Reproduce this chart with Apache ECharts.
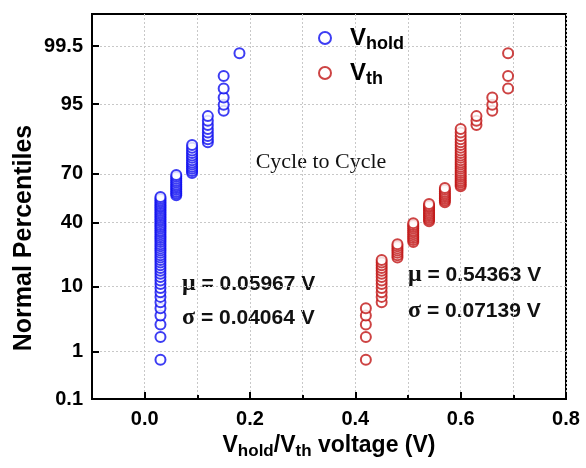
<!DOCTYPE html>
<html>
<head>
<meta charset="utf-8">
<script src="https://cdn.jsdelivr.net/npm/echarts@6/dist/echarts.min.js"></script>
<style>
  html, body { margin: 0; padding: 0; background: #fff; }
  #chart { width: 586px; height: 468px; }
</style>
</head>
<body>
<div id="chart"></div>
<script>
// Measured voltage levels (V) and how many cycles gave each level
const vholdLevels = [0.03, 0.06, 0.09, 0.12, 0.15, 0.18];
const vholdCounts = [51, 12, 13, 8, 5, 1];
const vthLevels = [0.42, 0.45, 0.48, 0.51, 0.54, 0.57, 0.60, 0.63, 0.66, 0.69];
const vthCounts = [5, 13, 7, 11, 11, 9, 25, 3, 3, 3];

// Axis ticks
const percentileTicks = [0.1, 1, 10, 40, 70, 95, 99.5];
const percentileLabels = ['0.1', '1', '10', '40', '70', '95', '99.5'];
const voltageTicks = [0.0, 0.2, 0.4, 0.6, 0.8];

// Fitted statistics
const vholdStats = { mu: '0.05967', sigma: '0.04064' };
const vthStats = { mu: '0.54363', sigma: '0.07139' };

// Inverse of the standard normal CDF (Acklam's rational approximation)
function probit(p) {
  const a = [-3.969683028665376e+01, 2.209460984245205e+02, -2.759285104469687e+02,
             1.383577518672690e+02, -3.066479806614716e+01, 2.506628277459239e+00];
  const b = [-5.447609879822406e+01, 1.615858368580409e+02, -1.556989798598866e+02,
             6.680131188771972e+01, -1.328068155288572e+01];
  const c = [-7.784894002430293e-03, -3.223964580411365e-01, -2.400758277161838e+00,
             -2.549671010422186e+00, 4.374664141464968e+00, 2.938163982698783e+00];
  const d = [7.784695709041462e-03, 3.224671290700398e-01, 2.445134137142996e+00,
             3.754408661907416e+00];
  const pl = 0.02425, ph = 1 - pl;
  let q, r;
  if (p < pl) {
    q = Math.sqrt(-2 * Math.log(p));
    return (((((c[0]*q+c[1])*q+c[2])*q+c[3])*q+c[4])*q+c[5]) /
           ((((d[0]*q+d[1])*q+d[2])*q+d[3])*q+1);
  }
  if (p <= ph) {
    q = p - 0.5; r = q * q;
    return (((((a[0]*r+a[1])*r+a[2])*r+a[3])*r+a[4])*r+a[5])*q /
           (((((b[0]*r+b[1])*r+b[2])*r+b[3])*r+b[4])*r+1);
  }
  q = Math.sqrt(-2 * Math.log(1 - p));
  return -(((((c[0]*q+c[1])*q+c[2])*q+c[3])*q+c[4])*q+c[5]) /
          ((((d[0]*q+d[1])*q+d[2])*q+d[3])*q+1);
}

// Normal probability plot points: ranked samples, Blom plotting positions
function probabilityPoints(levels, counts) {
  const n = counts.reduce((s, v) => s + v, 0);
  const pts = [];
  let rank = 0;
  levels.forEach((lv, k) => {
    for (let j = 0; j < counts[k]; j++) {
      rank += 1;
      pts.push([lv, probit((rank - 0.375) / (n + 0.25))]);
    }
  });
  return pts;
}

const zMin = probit(0.001);
const zMax = probit(0.999);
const yTickZ = percentileTicks.map(p => probit(p / 100));

function percentLabel(v) {
  let best = 0;
  yTickZ.forEach((z, i) => { if (Math.abs(z - v) < Math.abs(yTickZ[best] - v)) best = i; });
  return percentileLabels[best];
}

const SANS = 'Liberation Sans, Arial, sans-serif';
const SERIF = 'Liberation Serif, Times New Roman, serif';
const BLUE = '#0c0cf0';
const RED = '#c01414';
const plotRect = { left: 92, right: 20, top: 14, bottom: 69 };

const chart = echarts.init(document.getElementById('chart'), null, { renderer: 'canvas' });

const statText = (stats, sym, key) => `{g|${sym}}{t| = ${stats[key]} V}`;
const statRich = {
  g: { fontFamily: SERIF, fontSize: 24, fontWeight: 'bold', fill: '#111' },
  t: { fontFamily: SANS, fontSize: 21, fontWeight: 'bold', fill: '#111' }
};

chart.setOption({
  animation: false,
  backgroundColor: '#fff',
  grid: [
    Object.assign({ show: true, borderColor: '#000', borderWidth: 2, backgroundColor: 'transparent' }, plotRect),
    // same rectangle, carries the long major ticks of the voltage axis
    Object.assign({ show: false }, plotRect)
  ],
  legend: {
    orient: 'vertical',
    left: 313, top: 21,
    itemGap: 8,
    itemWidth: 40, itemHeight: 12,
    data: ['Vhold', 'Vth'],
    formatter: name => name === 'Vhold' ? '{v|V}{s|hold}' : '{v|V}{s|th}',
    textStyle: {
      color: '#000',
      rich: {
        v: { fontFamily: SANS, fontSize: 24, fontWeight: 'bold', color: '#000', lineHeight: 26 },
        s: { fontFamily: SANS, fontSize: 18, fontWeight: 'bold', color: '#000', padding: [12, 0, 0, 0] }
      }
    }
  },
  xAxis: [
    {
      gridIndex: 0,
      type: 'value', min: -0.1, max: 0.8, interval: 0.1,
      name: '{v|V}{s|hold}{v|/V}{s|th}{v| voltage (V)}',
      nameLocation: 'middle', nameGap: 33,
      nameTextStyle: {
        rich: {
          v: { fontFamily: SANS, fontSize: 23, fontWeight: 'bold', color: '#000', lineHeight: 26 },
          s: { fontFamily: SANS, fontSize: 17, fontWeight: 'bold', color: '#000', padding: [11, 0, 0, 0] }
        }
      },
      axisLine: { show: true, onZero: false, lineStyle: { color: '#000', width: 2 } },
      axisTick: { show: true, inside: true, length: 4, lineStyle: { color: '#000', width: 2 } },
      axisLabel: { customValues: voltageTicks, formatter: v => v.toFixed(1), margin: 10,
                   fontFamily: SANS, fontSize: 20, fontWeight: 'bold', color: '#000' },
      splitLine: { show: true, lineStyle: { color: '#c8c8c8', width: 1, type: [2, 2] } }
    },
    {
      gridIndex: 1,
      type: 'value', min: -0.1, max: 0.8, position: 'bottom',
      axisLine: { show: false, onZero: false },
      axisTick: { show: true, inside: true, length: 7, customValues: voltageTicks,
                  lineStyle: { color: '#000', width: 2 } },
      axisLabel: { show: false },
      splitLine: { show: false }
    }
  ],
  yAxis: [
    {
      gridIndex: 0,
      type: 'value', min: zMin, max: zMax,
      axisLine: { show: true, onZero: false, lineStyle: { color: '#000', width: 2 } },
      axisTick: { show: true, inside: true, length: 7, customValues: yTickZ,
                  lineStyle: { color: '#000', width: 2 } },
      axisLabel: { customValues: yTickZ, formatter: percentLabel, margin: 9,
                   fontFamily: SANS, fontSize: 20, fontWeight: 'bold', color: '#000' },
      splitLine: { show: true, lineStyle: { color: '#c8c8c8', width: 1, type: [2, 2] } }
    },
    { gridIndex: 1, type: 'value', min: zMin, max: zMax, show: false }
  ],
  graphic: [
    { type: 'text', x: 24, y: 238, rotation: Math.PI / 2,
      style: { text: 'Normal Percentiles', fontFamily: SANS, fontSize: 25, fontWeight: 'bold',
               fill: '#000', align: 'center', verticalAlign: 'middle' } },
    { type: 'text', x: 321, y: 162, style: { text: 'Cycle to Cycle', fontFamily: SERIF, fontSize: 22,
      fill: '#111', align: 'center', verticalAlign: 'middle' } },
    { type: 'text', x: 182, y: 284, style: { text: statText(vholdStats, 'μ', 'mu'), rich: statRich, verticalAlign: 'middle' } },
    { type: 'text', x: 182, y: 318, style: { text: statText(vholdStats, 'σ', 'sigma'), rich: statRich, verticalAlign: 'middle' } },
    { type: 'text', x: 408, y: 275, style: { text: statText(vthStats, 'μ', 'mu'), rich: statRich, verticalAlign: 'middle' } },
    { type: 'text', x: 408, y: 311, style: { text: statText(vthStats, 'σ', 'sigma'), rich: statRich, verticalAlign: 'middle' } }
  ],
  series: [
    {
      name: 'Vhold', type: 'scatter', xAxisIndex: 0, yAxisIndex: 0,
      symbol: 'emptyCircle', symbolSize: 10,
      itemStyle: { color: BLUE, borderColor: BLUE, borderWidth: 1.8 },
      data: probabilityPoints(vholdLevels, vholdCounts)
    },
    {
      name: 'Vth', type: 'scatter', xAxisIndex: 0, yAxisIndex: 0,
      symbol: 'emptyCircle', symbolSize: 10,
      itemStyle: { color: RED, borderColor: RED, borderWidth: 1.8 },
      data: probabilityPoints(vthLevels, vthCounts)
    }
  ]
});
</script>
</body>
</html>
